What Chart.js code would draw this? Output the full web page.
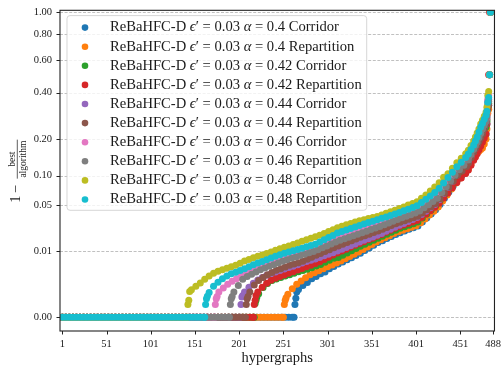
<!DOCTYPE html>
<html>
<head>
<meta charset="utf-8">
<title>ReBaHFC-D profile</title>
<script src="https://cdn.jsdelivr.net/npm/chart.js@4.4.1/dist/chart.umd.min.js"></script>
<style>
  html, body { margin: 0; padding: 0; background: #fff; }
  #wrap { width: 504px; height: 371px; }
</style>
</head>
<body>
<div id="wrap"><canvas id="profileChart" width="504" height="371"></canvas></div>
<script>
// series order as in the legend
const alphas = ['0.4', '0.4', '0.42', '0.42', '0.44', '0.44', '0.46', '0.46', '0.48', '0.48'];
const variants = ['Corridor', 'Repartition', 'Corridor', 'Repartition', 'Corridor', 'Repartition', 'Corridor', 'Repartition', 'Corridor', 'Repartition'];
const colors = ['#1f77b4', '#ff7f0e', '#2ca02c', '#d62728', '#9467bd', '#8c564b', '#e377c2', '#7f7f7f', '#bcbd22', '#17becf'];
// first hypergraph with a non-zero value (everything before is 0.00)
const firstNonZero = [264, 252, 219, 218, 203, 209, 174, 191, 143, 163];

const yTickValues = [0, 0.01, 0.05, 0.1, 0.2, 0.4, 0.6, 0.8, 1.0];
const xTickValues = [1, 51, 101, 151, 201, 251, 301, 351, 401, 451, 488];

// [hypergraph, 1 - best/algorithm] for the non-zero part
const c40 = [[264,0.0000701],[265,0.000235],[266,0.000554],[268,0.000751],[273,0.00111],[278,0.00148],[283,0.00198],[288,0.00239],[293,0.00286],[298,0.00327],[303,0.00398],[308,0.00459],[313,0.0053],[318,0.00595],[323,0.00668],[328,0.00743],[333,0.00824],[338,0.00923],[343,0.01043],[348,0.01169],[353,0.0131],[358,0.01461],[363,0.01581],[368,0.01713],[373,0.01846],[378,0.01993],[383,0.02124],[388,0.02254],[393,0.02388],[398,0.0252],[403,0.02665],[408,0.03038],[413,0.03443],[418,0.03883],[423,0.04359],[428,0.05044],[433,0.05929],[438,0.06912],[443,0.07998],[448,0.09192],[453,0.1011],[458,0.1112],[460,0.119],[463,0.1317],[466,0.1452],[468,0.1549],[470,0.1623],[472,0.169],[474,0.1763],[476,0.1834],[478,0.1996],[480,0.2167],[481,0.2538],[482,0.3169],[483,0.3354],[484,0.5033],[485,1.0]];
const r40 = [[252,0.0000701],[253,0.000168],[254,0.000254],[256,0.000427],[261,0.000818],[266,0.00126],[271,0.00165],[276,0.00217],[281,0.00268],[286,0.0031],[291,0.00355],[296,0.004],[301,0.00449],[306,0.00498],[311,0.00557],[316,0.00624],[321,0.00703],[326,0.00785],[331,0.00876],[336,0.00975],[341,0.0109],[346,0.0122],[351,0.01353],[356,0.01502],[361,0.01637],[366,0.01772],[371,0.01908],[376,0.02058],[381,0.022],[386,0.02317],[391,0.02445],[396,0.02571],[401,0.027],[406,0.02962],[411,0.03341],[416,0.03751],[421,0.04193],[426,0.04706],[431,0.05524],[436,0.06431],[441,0.07433],[446,0.08534],[451,0.09533],[456,0.105],[460,0.1144],[463,0.126],[466,0.1384],[468,0.1471],[470,0.1566],[472,0.1614],[474,0.1661],[476,0.1711],[478,0.1834],[480,0.1996],[481,0.2347],[482,0.2992],[483,0.3169],[484,0.5033],[485,1.0]];
const c42 = [[219,0.000088],[220,0.000168],[221,0.000286],[223,0.000456],[228,0.000915],[233,0.00133],[238,0.00173],[243,0.00195],[248,0.00219],[253,0.00245],[258,0.0027],[263,0.003],[268,0.00329],[273,0.00358],[278,0.00388],[283,0.00428],[288,0.00473],[293,0.00518],[298,0.00585],[303,0.00654],[308,0.00717],[313,0.0075],[318,0.0084],[323,0.00931],[328,0.01034],[333,0.01144],[338,0.01251],[343,0.01365],[348,0.01479],[353,0.01606],[358,0.01733],[363,0.01866],[368,0.02014],[373,0.02162],[378,0.02324],[383,0.0247],[388,0.02605],[393,0.02735],[398,0.02879],[403,0.03028],[408,0.03433],[413,0.03872],[418,0.04347],[423,0.0486],[428,0.05552],[433,0.06431],[438,0.07381],[443,0.08439],[448,0.09594],[453,0.1054],[458,0.1157],[460,0.1238],[463,0.1368],[466,0.1504],[468,0.1603],[470,0.1681],[472,0.1803],[474,0.193],[476,0.2063],[478,0.2238],[480,0.2422],[481,0.2657],[482,0.3261],[483,0.3449],[484,0.5033],[485,1.0]];
const r42 = [[218,0.0000701],[219,0.000168],[220,0.000364],[222,0.000554],[227,0.000952],[232,0.00136],[237,0.00179],[242,0.00208],[247,0.00238],[252,0.00265],[257,0.00296],[262,0.00329],[267,0.00367],[272,0.00405],[277,0.00449],[282,0.00492],[287,0.00542],[292,0.00598],[297,0.00675],[302,0.00762],[307,0.00852],[312,0.00936],[317,0.0102],[322,0.0111],[327,0.01204],[332,0.0131],[337,0.0141],[342,0.01514],[347,0.0163],[352,0.01739],[357,0.0186],[362,0.02],[367,0.02154],[372,0.02309],[377,0.02478],[382,0.0263],[387,0.02762],[392,0.02898],[397,0.03047],[402,0.03192],[407,0.03495],[412,0.03861],[417,0.04252],[422,0.04681],[427,0.05219],[432,0.05959],[437,0.06765],[442,0.07641],[447,0.08609],[452,0.09513],[457,0.1048],[460,0.1123],[463,0.1238],[466,0.1363],[468,0.1447],[470,0.1537],[472,0.1652],[474,0.1772],[476,0.1898],[478,0.2029],[480,0.2167],[481,0.2538],[482,0.3261],[483,0.5033],[484,1.0]];
const c44 = [[203,0.0000701],[204,0.000286],[205,0.000364],[207,0.000554],[212,0.000952],[217,0.00136],[222,0.0018],[227,0.00219],[232,0.00259],[237,0.00292],[242,0.00327],[247,0.0036],[252,0.00395],[257,0.0043],[262,0.00467],[267,0.0051],[272,0.0056],[277,0.00608],[282,0.00654],[287,0.00692],[292,0.0075],[297,0.00812],[302,0.00876],[307,0.00944],[312,0.01016],[317,0.011],[322,0.01194],[327,0.01288],[332,0.01387],[337,0.01496],[342,0.01599],[347,0.01707],[352,0.01819],[357,0.01936],[362,0.02072],[367,0.02231],[372,0.02388],[377,0.02562],[382,0.02735],[387,0.02907],[392,0.03095],[397,0.03291],[402,0.03485],[407,0.03817],[412,0.04205],[417,0.04618],[422,0.05058],[427,0.05695],[432,0.06653],[437,0.07712],[442,0.08878],[447,0.1016],[452,0.1123],[457,0.1231],[460,0.1319],[463,0.1463],[466,0.1614],[468,0.1723],[470,0.1834],[472,0.1973],[474,0.2122],[476,0.2274],[478,0.2422],[480,0.2577],[481,0.2821],[482,0.3546],[483,0.3645],[484,0.5033],[485,1.0]];
const r44 = [[209,0.0000701],[210,0.000224],[211,0.000312],[213,0.000554],[218,0.00117],[223,0.00173],[228,0.00221],[233,0.0027],[238,0.00316],[243,0.00362],[248,0.00403],[253,0.00446],[258,0.0049],[263,0.00527],[268,0.00566],[273,0.00614],[278,0.00682],[283,0.00754],[288,0.00832],[293,0.0091],[298,0.00993],[303,0.01086],[308,0.01179],[313,0.01277],[318,0.0137],[323,0.01473],[328,0.01575],[333,0.01687],[338,0.01799],[343,0.01901],[348,0.02014],[353,0.02132],[358,0.02254],[363,0.02397],[368,0.02545],[373,0.02709],[378,0.0287],[383,0.03019],[388,0.03162],[393,0.03321],[398,0.03474],[403,0.03632],[408,0.03985],[413,0.04359],[418,0.04744],[423,0.05165],[428,0.05855],[433,0.06765],[438,0.07783],[443,0.08897],[448,0.1016],[453,0.1107],[458,0.1207],[460,0.1287],[463,0.1431],[466,0.1588],[468,0.1699],[470,0.1794],[472,0.1914],[474,0.2036],[476,0.2167],[478,0.2347],[480,0.2538],[481,0.2738],[482,0.3169],[483,0.3354],[484,0.5033],[485,1.0]];
const c46 = [[174,0.0000701],[175,0.000224],[176,0.000312],[178,0.000554],[183,0.000879],[188,0.00125],[193,0.00164],[198,0.002],[203,0.00239],[208,0.00282],[213,0.00329],[218,0.00378],[223,0.00436],[228,0.00498],[233,0.00566],[238,0.00621],[243,0.00678],[248,0.00739],[253,0.00792],[258,0.00844],[263,0.00897],[268,0.00953],[273,0.01011],[278,0.01076],[283,0.01134],[288,0.01209],[293,0.01342],[298,0.01461],[303,0.01581],[308,0.01713],[313,0.01819],[318,0.01915],[323,0.02007],[328,0.02109],[333,0.02215],[338,0.02332],[343,0.02478],[348,0.02622],[353,0.0278],[358,0.02934],[363,0.03085],[368,0.03241],[373,0.03402],[378,0.03568],[383,0.0374],[388,0.03939],[393,0.04134],[398,0.04347],[403,0.04555],[408,0.04965],[413,0.05398],[418,0.05841],[423,0.06322],[428,0.06928],[433,0.07926],[438,0.09],[443,0.1016],[448,0.1155],[453,0.1262],[458,0.1376],[460,0.1455],[463,0.1608],[466,0.1772],[468,0.1882],[470,0.1996],[472,0.2143],[474,0.23],[476,0.246],[478,0.2597],[480,0.2738],[481,0.2949],[482,0.3645],[483,0.3847],[484,0.5033],[485,1.0]];
const r46 = [[191,0.0000701],[192,0.000224],[193,0.000312],[195,0.000554],[200,0.00111],[205,0.00192],[210,0.00238],[215,0.00278],[220,0.00322],[225,0.00374],[230,0.0042],[235,0.00465],[240,0.0051],[245,0.0056],[250,0.00614],[255,0.00668],[260,0.00721],[265,0.00769],[270,0.00824],[275,0.0088],[280,0.0094],[285,0.01002],[290,0.01086],[295,0.01179],[300,0.01277],[305,0.01381],[310,0.01491],[315,0.01599],[320,0.01694],[325,0.01792],[330,0.01901],[335,0.02007],[340,0.02124],[345,0.02246],[350,0.02372],[355,0.02503],[360,0.02639],[365,0.02789],[370,0.02953],[375,0.03114],[380,0.03291],[385,0.03453],[390,0.03621],[395,0.03795],[400,0.03973],[405,0.04228],[410,0.04618],[415,0.05017],[420,0.05454],[425,0.05914],[430,0.0683],[435,0.07836],[440,0.08917],[445,0.1011],[450,0.1128],[455,0.1235],[460,0.1371],[463,0.1518],[466,0.1673],[468,0.1784],[470,0.1898],[472,0.204],[474,0.2192],[476,0.2347],[478,0.2499],[480,0.2657],[481,0.2863],[482,0.34],[483,0.3546],[484,0.5033],[485,1.0]];
const c48 = [[143,0.0000701],[144,0.000168],[145,0.000602],[147,0.00072],[152,0.00105],[157,0.00139],[162,0.00191],[167,0.00248],[172,0.00298],[177,0.0034],[182,0.00374],[187,0.0041],[192,0.00451],[197,0.00495],[202,0.00554],[207,0.00621],[212,0.00678],[217,0.00736],[222,0.00792],[227,0.00848],[232,0.0091],[237,0.0098],[242,0.01053],[247,0.01129],[252,0.01209],[257,0.01267],[262,0.01359],[267,0.01444],[272,0.01544],[277,0.01643],[282,0.01733],[287,0.01826],[292,0.01943],[297,0.02072],[302,0.02215],[307,0.02364],[312,0.0252],[317,0.02656],[322,0.0278],[327,0.02907],[332,0.03038],[337,0.03162],[342,0.03271],[347,0.03382],[352,0.03495],[357,0.03611],[362,0.03773],[367,0.03951],[372,0.04134],[377,0.04323],[382,0.04518],[387,0.04731],[392,0.04965],[397,0.05192],[402,0.0544],[407,0.05914],[412,0.06447],[417,0.07094],[422,0.07783],[427,0.08571],[432,0.09655],[437,0.1043],[442,0.1167],[447,0.1297],[452,0.1418],[457,0.1543],[460,0.1643],[463,0.1781],[466,0.193],[468,0.2063],[470,0.2202],[472,0.2347],[474,0.2538],[476,0.2697],[478,0.2863],[480,0.3036],[481,0.3261],[482,0.3847],[483,0.4057],[484,0.5033],[485,1.0]];
const r48 = [[163,0.0000701],[164,0.000224],[165,0.000326],[167,0.000535],[172,0.00104],[177,0.00151],[182,0.00198],[187,0.00246],[192,0.00286],[197,0.00318],[202,0.00358],[207,0.004],[212,0.00451],[217,0.00507],[222,0.0056],[227,0.00611],[232,0.00668],[237,0.00728],[242,0.00792],[247,0.00856],[252,0.00918],[257,0.00975],[262,0.01034],[267,0.01095],[272,0.01159],[277,0.01225],[282,0.01299],[287,0.0137],[292,0.01496],[297,0.01637],[302,0.01779],[307,0.01929],[312,0.02094],[317,0.02215],[322,0.02332],[327,0.02462],[332,0.02588],[337,0.02718],[342,0.02843],[347,0.02981],[352,0.03114],[357,0.03261],[362,0.03402],[367,0.03547],[372,0.03707],[377,0.03872],[382,0.04042],[387,0.0424],[392,0.04445],[397,0.04655],[402,0.04886],[407,0.05301],[412,0.05782],[417,0.06292],[422,0.0685],[427,0.07554],[432,0.08534],[437,0.09594],[442,0.1076],[447,0.12],[452,0.1314],[457,0.1434],[460,0.1529],[463,0.1661],[466,0.1803],[468,0.193],[470,0.2063],[472,0.2238],[474,0.2422],[476,0.2577],[478,0.2738],[480,0.2905],[481,0.308],[482,0.3497],[483,0.3745],[484,0.5033],[485,1.0]];

const nonZero = [c40, r40, c42, r42, c44, r44, c46, r46, c48, r48];

const serif = "'Liberation Serif', 'DejaVu Serif', serif";
const ink = '#1a1a1a';

// cube-root y axis (like the original figure)
class CubeRootScale extends Chart.LinearScale {
  static id = 'cuberoot';
  getPixelForValue(value) {
    const a = Math.cbrt(this.min), b = Math.cbrt(this.max);
    return this.getPixelForDecimal((Math.cbrt(value) - a) / (b - a));
  }
  getValueForPixel(pixel) {
    const a = Math.cbrt(this.min), b = Math.cbrt(this.max);
    const t = a + this.getDecimalForPixel(pixel) * (b - a);
    return t * t * t;
  }
  buildTicks() {
    return yTickValues.map(v => ({ value: v }));
  }
}
Chart.register(CubeRootScale);

function seriesPoints(i) {
  const pts = [];
  for (let h = 1; h < firstNonZero[i]; h += 4) pts.push({ x: h, y: 0 });
  pts.push({ x: firstNonZero[i] - 1, y: 0 });
  nonZero[i].forEach(p => pts.push({ x: p[0], y: p[1] }));
  return pts;
}

const datasets = nonZero.map((_, i) => ({
  label: 'ReBaHFC-D eps=0.03 alpha=' + alphas[i] + ' ' + variants[i],
  data: seriesPoints(i),
  backgroundColor: colors[i],
  borderWidth: 0,
  pointRadius: 3.5,
  pointHoverRadius: 3.5,
  order: nonZero.length - i
}));

const framePlugin = {
  id: 'frame',
  beforeDatasetsDraw(chart) {
    const { ctx, chartArea: a } = chart;
    const y = chart.scales.y;
    ctx.save();
    ctx.strokeStyle = '#b0b0b0';
    ctx.lineWidth = 0.8;
    ctx.setLineDash([3, 1.6]);
    yTickValues.forEach(v => {
      const py = Math.round(y.getPixelForValue(v)) + 0.5;
      ctx.beginPath(); ctx.moveTo(a.left, py); ctx.lineTo(a.right, py); ctx.stroke();
    });
    ctx.restore();
  },
  afterDatasetsDraw(chart) {
    const { ctx, chartArea: a } = chart;
    const x = chart.scales.x, y = chart.scales.y;
    ctx.save();
    ctx.strokeStyle = '#222';
    ctx.lineWidth = 1.1;
    ctx.strokeRect(a.left, a.top, a.right - a.left, a.bottom - a.top);
    ctx.lineWidth = 1;
    yTickValues.forEach(v => {
      const py = Math.round(y.getPixelForValue(v)) + 0.5;
      ctx.beginPath(); ctx.moveTo(a.left - 3.5, py); ctx.lineTo(a.left, py); ctx.stroke();
    });
    xTickValues.forEach(v => {
      const px = Math.round(x.getPixelForValue(v)) + 0.5;
      ctx.beginPath(); ctx.moveTo(px, a.bottom); ctx.lineTo(px, a.bottom + 3.5); ctx.stroke();
    });

    // legend
    const lx = a.left + 7, ly = a.top + 5.3, lw = 299.7, lh = 194.7;
    ctx.beginPath();
    ctx.roundRect(lx, ly, lw, lh, 3);
    ctx.fillStyle = 'rgba(255,255,255,0.8)';
    ctx.fill();
    ctx.strokeStyle = 'rgba(204,204,204,0.8)';
    ctx.lineWidth = 1;
    ctx.stroke();
    ctx.textBaseline = 'alphabetic';
    ctx.textAlign = 'left';
    nonZero.forEach((_, i) => {
      const cy = ly + 12 + 19.1 * i;
      ctx.beginPath();
      ctx.arc(lx + 18, cy, 3.3, 0, 2 * Math.PI);
      ctx.fillStyle = colors[i];
      ctx.fill();
      const parts = [
        ['ReBaHFC-D ', false], ['\u03f5', true], ['\u2032 = 0.03 ', false],
        ['\u03b1', true], [' = ' + alphas[i] + ' ' + variants[i], false]
      ];
      let tx = lx + 43;
      ctx.fillStyle = ink;
      parts.forEach(([t, it]) => {
        ctx.font = (it ? 'italic ' : '') + '14.6px ' + serif;
        ctx.fillText(t, tx, cy + 3.8);
        tx += ctx.measureText(t).width;
      });
    });

    // x title
    ctx.font = '14.5px ' + serif;
    ctx.textAlign = 'center';
    ctx.fillStyle = ink;
    ctx.fillText('hypergraphs', (a.left + a.right) / 2, 362);

    // y title: 1 - best/algorithm, rotated
    ctx.translate(17.3, (a.top + a.bottom) / 2);
    ctx.rotate(-Math.PI / 2);
    ctx.textAlign = 'left';
    ctx.font = '14.5px ' + serif;
    ctx.fillText('1', -32, 2.5);
    ctx.fillText('\u2212', -22.5, 2.5);
    ctx.font = '9.5px ' + serif;
    ctx.textAlign = 'center';
    ctx.fillText('best', 11.5, -1.8);
    ctx.fillText('algorithm', 11.5, 8.3);
    ctx.strokeStyle = ink;
    ctx.lineWidth = 0.7;
    ctx.beginPath(); ctx.moveTo(-8, 0); ctx.lineTo(31, 0); ctx.stroke();
    ctx.restore();
  }
};

new Chart(document.getElementById('profileChart'), {
  type: 'scatter',
  data: { datasets: datasets },
  options: {
    responsive: false,
    animation: false,
    events: [],
    layout: { padding: { top: 7, right: 7, left: 0, bottom: 0 } },
    plugins: { legend: { display: false }, tooltip: { enabled: false } },
    scales: {
      x: {
        type: 'linear',
        min: -1.58,
        max: 489.55,
        afterBuildTicks: s => { s.ticks = xTickValues.map(v => ({ value: v })); },
        afterFit: s => { s.height = 40; },
        grid: { display: false, drawTicks: true, tickLength: 4 },
        border: { display: false },
        ticks: { autoSkip: false, maxRotation: 0, padding: 3, color: ink, font: { family: serif, size: 10.5 }, callback: v => String(v) }
      },
      y: {
        type: 'cuberoot',
        min: -0.0000939,
        max: 1.0196,
        afterFit: s => { s.width = 60; },
        grid: { display: false, drawTicks: true, tickLength: 4 },
        border: { display: false },
        ticks: { autoSkip: false, padding: 4, color: ink, font: { family: serif, size: 10.5 }, callback: v => v.toFixed(2) }
      }
    }
  },
  plugins: [framePlugin]
});
</script>
</body>
</html>
